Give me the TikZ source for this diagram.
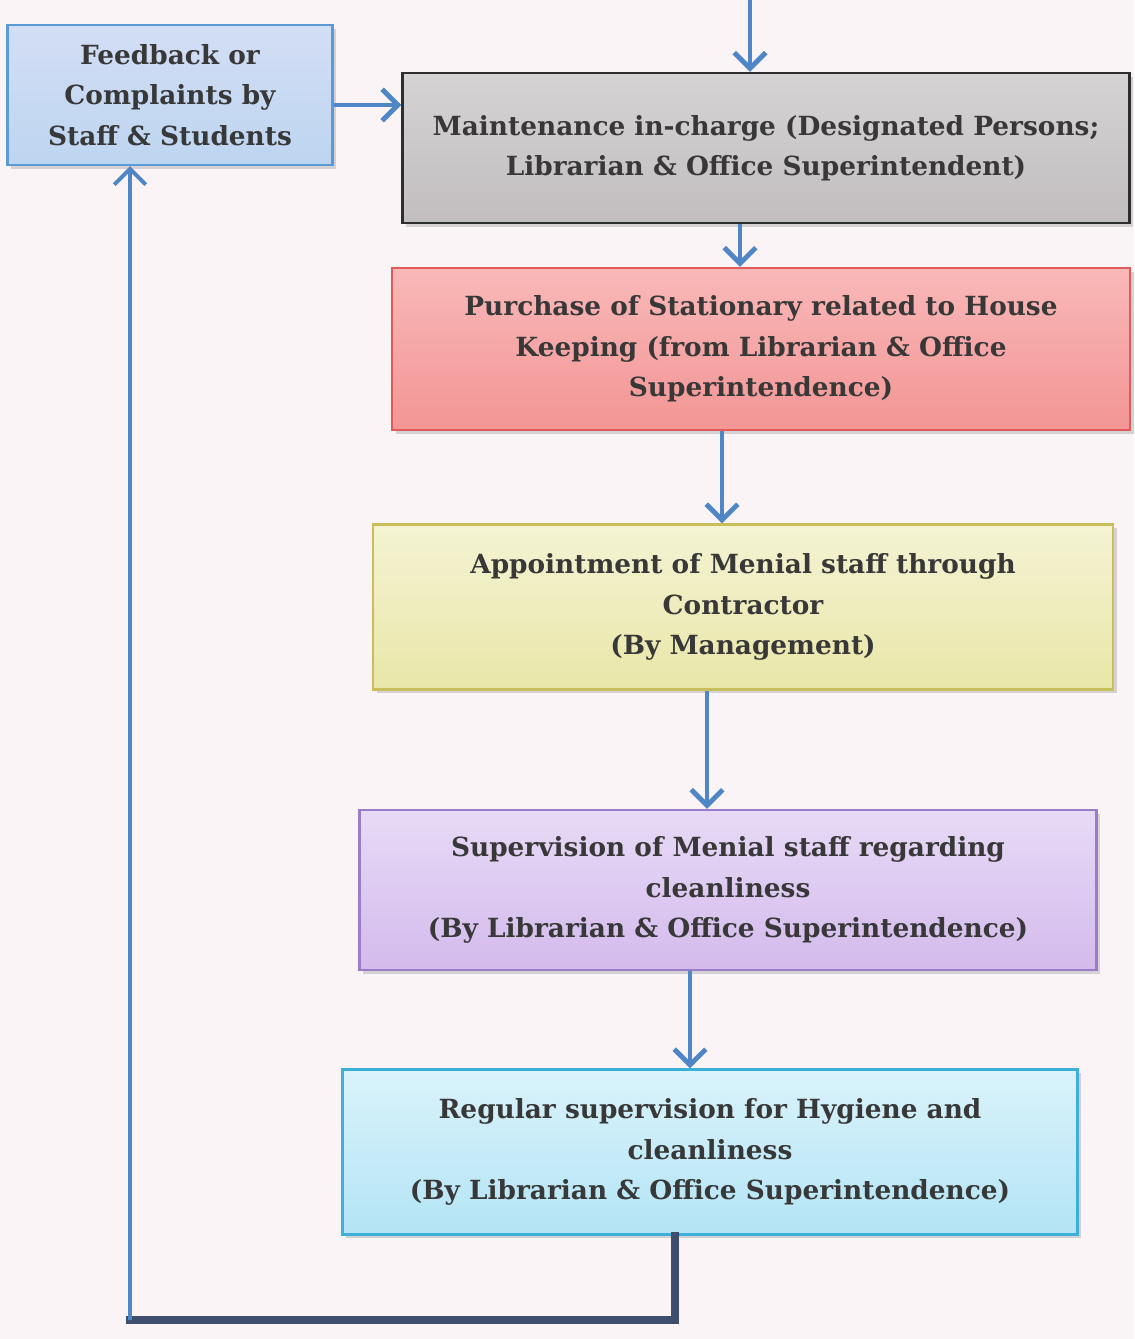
\documentclass[tikz,border=0pt]{standalone}
\usepackage{fontspec}
\setmainfont{DejaVu Serif}
\usetikzlibrary{arrows.meta,shadows}
\definecolor{pagepink}{HTML}{FBF4F7}
\definecolor{textgray}{HTML}{383838}
\definecolor{flowblue}{HTML}{4F86C6}
\definecolor{loopdark}{HTML}{3E4E6C}
\definecolor{fbtop}{HTML}{D3DEF5}\definecolor{fbbot}{HTML}{BDD5F0}\definecolor{fbline}{HTML}{5B9BD5}
\definecolor{mttop}{HTML}{D6D3D5}\definecolor{mtbot}{HTML}{C2BEC0}\definecolor{mtline}{HTML}{2E2E2E}
\definecolor{putop}{HTML}{F9B8B8}\definecolor{pubot}{HTML}{F39595}\definecolor{puline}{HTML}{E05A5A}
\definecolor{aptop}{HTML}{F4F3D3}\definecolor{apbot}{HTML}{E9E6A8}\definecolor{apline}{HTML}{C8BF5A}
\definecolor{svtop}{HTML}{E8DAF6}\definecolor{svbot}{HTML}{D3BAEC}\definecolor{svline}{HTML}{9A7CC8}
\definecolor{rgtop}{HTML}{DAF3FB}\definecolor{rgbot}{HTML}{B3E4F5}\definecolor{rgline}{HTML}{3CB0D8}
\tikzset{
  box/.style={draw, line width=1.2pt, align=center, inner sep=0pt, text=textgray,
    font=\fontsize{15}{23}\selectfont\bfseries,
    drop shadow={opacity=0.3, shadow xshift=2pt, shadow yshift=-2pt}},
  flow/.style={draw=flowblue, line width=2.8pt, -{Straight Barb[length=9pt,width=18pt]}},
  loopline/.style={draw=loopdark, line width=4.5pt, line cap=rect},
}

\begin{document}
\begin{tikzpicture}
\useasboundingbox (0,0) rectangle (22.68,-26.78);
\fill[pagepink] (0,0) rectangle (22.68,-26.78);

\node[box, draw=fbline, top color=fbtop, bottom color=fbbot,
  minimum width=6.5cm, minimum height=2.8cm] (fb) at (3.4,-1.9)
  {Feedback or\\Complaints by\\Staff \& Students};
\node[box, draw=mtline, top color=mttop, bottom color=mtbot,
  minimum width=14.54cm, minimum height=3cm] (maint) at (15.32,-2.96)
  {Maintenance in-charge (Designated Persons;\\Librarian \& Office Superintendent)};
\node[box, draw=puline, top color=putop, bottom color=pubot,
  minimum width=14.76cm, minimum height=3.24cm] (purch) at (15.22,-6.98)
  {Purchase of Stationary related to House\\Keeping (from Librarian \& Office\\Superintendence)};
\node[box, draw=apline, top color=aptop, bottom color=apbot,
  minimum width=14.8cm, minimum height=3.3cm] (appt) at (14.86,-12.14)
  {Appointment of Menial staff through\\Contractor\\(By Management)};
\node[box, draw=svline, top color=svtop, bottom color=svbot,
  minimum width=14.74cm, minimum height=3.2cm] (superv) at (14.56,-17.8)
  {Supervision of Menial staff regarding\\cleanliness\\(By Librarian \& Office Superintendence)};
\node[box, draw=rgline, top color=rgtop, bottom color=rgbot,
  minimum width=14.7cm, minimum height=3.3cm] (reg) at (14.2,-23.04)
  {Regular supervision for Hygiene and\\cleanliness\\(By Librarian \& Office Superintendence)};

\coordinate (entry) at (15.0,0);
\coordinate (lowright) at (13.5,-26.4);
\coordinate (lowleft) at (2.6,-26.4);

\draw[flow] (entry) -- (entry |- maint.north);
\draw[flow] ([yshift=-0.2cm]fb.east) -- ([yshift=-0.2cm]fb.east -| maint.west);
\draw[flow] ([xshift=-0.52cm]maint.south) -- ([xshift=-0.52cm]maint.south |- purch.north);
\draw[flow] ([xshift=-0.78cm]purch.south) -- ([xshift=-0.78cm]purch.south |- appt.north);
\draw[flow] ([xshift=-0.72cm]appt.south) -- ([xshift=-0.72cm]appt.south |- superv.north);
\draw[flow] ([xshift=-0.76cm]superv.south) -- ([xshift=-0.76cm]superv.south |- reg.north);
\draw[loopline] ([xshift=-0.7cm]reg.south) -- (lowright) -- (lowleft);
\draw[flow, line width=2.2pt] (lowleft) -- ([xshift=-0.8cm]fb.south);
\end{tikzpicture}
\end{document}
